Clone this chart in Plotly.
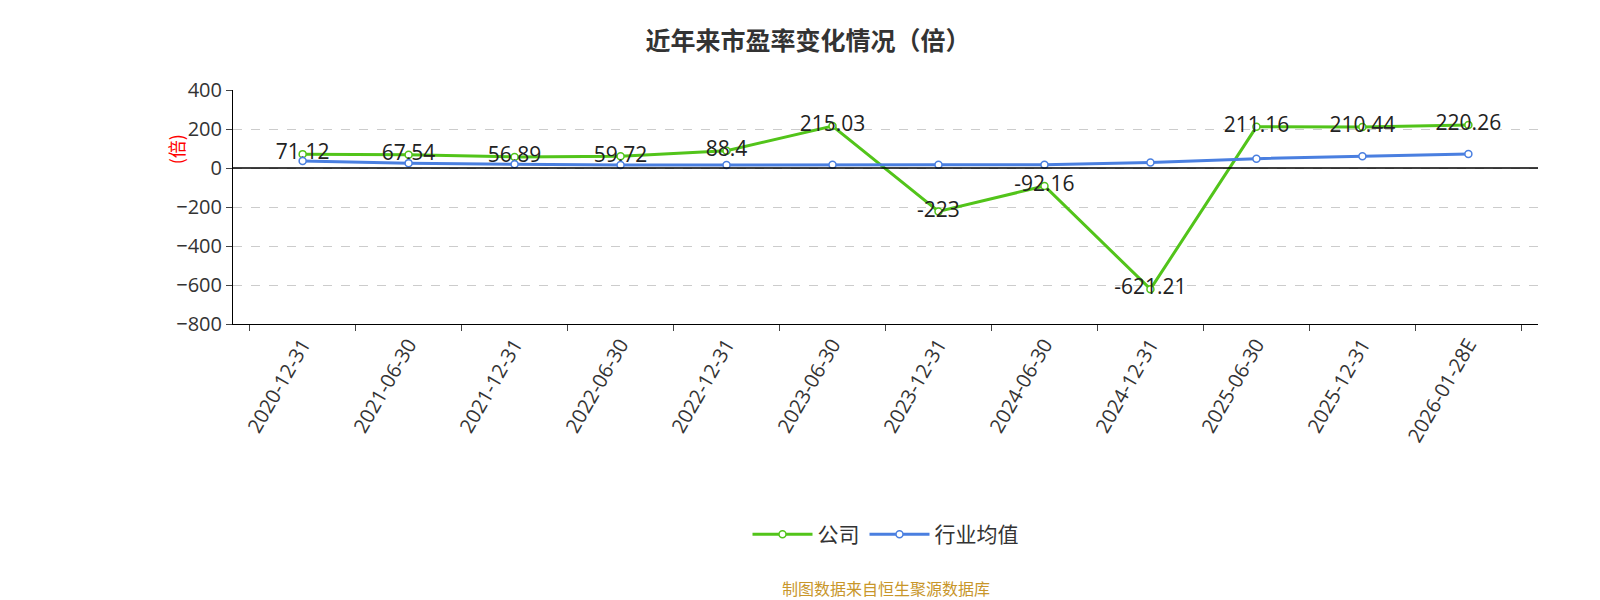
import plotly.graph_objects as go

dates = ["2020-12-31","2021-06-30","2021-12-31","2022-06-30","2022-12-31","2023-06-30",
         "2023-12-31","2024-06-30","2024-12-31","2025-06-30","2025-12-31","2026-01-28E"]
company = [71.12, 67.54, 56.89, 59.72, 88.4, 215.03, -223, -92.16, -621.21, 211.16, 210.44, 220.26]
industry = [36, 25, 19, 15, 15, 17, 17, 17, 28, 48, 60, 72]
labels = ["71.12","67.54","56.89","59.72","88.4","215.03","-223","-92.16","-621.21","211.16","210.44","220.26"]

fig = go.Figure()
fig.add_trace(go.Scatter(x=dates, y=company, name="公司", mode="lines+markers+text",
    line=dict(color="#52c41a", width=3),
    marker=dict(size=7, color="white", line=dict(color="#52c41a", width=1.5)),
    text=labels, textposition="middle center", textfont=dict(size=21, color="#222")))
fig.add_trace(go.Scatter(x=dates, y=industry, name="行业均值", mode="lines+markers",
    line=dict(color="#4a7fe0", width=3),
    marker=dict(size=7, color="white", line=dict(color="#4a7fe0", width=1.5))))

fig.update_layout(
    width=1600, height=600, plot_bgcolor="white", paper_bgcolor="white",
    font=dict(family="Open Sans, Noto Sans CJK SC", color="#333"),
    margin=dict(l=225, r=70, t=82, b=284),
    title=dict(text="<b>近年来市盈率变化情况（倍）</b>", x=0.5, xanchor="center", y=0.96,
               font=dict(size=25, color="#333", family="Noto Sans CJK SC")),
    showlegend=True,
    legend=dict(orientation="h", x=0.5, xanchor="center", y=-0.9, yanchor="middle",
                font=dict(size=21, color="#333", family="Noto Sans CJK SC"),
                itemwidth=60),
    xaxis=dict(type="category", tickangle=-60, tickfont=dict(size=20, color="#333"),
               showline=True, linecolor="#000", ticks="outside", tickson="boundaries",
               ticklen=6, showgrid=False),
    yaxis=dict(range=[-800, 400], dtick=200, tickfont=dict(size=20, color="#333"),
               showline=True, linecolor="#000", ticks="outside", ticklen=6,
               showgrid=True, gridcolor="#ccc", griddash="dash", zeroline=False),
    annotations=[
        dict(text="(倍)", x=-0.055, y=0.82, xref="paper", yref="paper", textangle=-90,
             showarrow=False, font=dict(size=18, color="red", family="Noto Sans CJK SC")),
        dict(text="制图数据来自恒生聚源数据库", x=0.5, y=-1.13, xref="paper", yref="paper",
             yanchor="middle", showarrow=False,
             font=dict(size=16, color="#c8962a", family="Noto Sans CJK SC"))],
    shapes=[dict(type="line", xref="paper", x0=0, x1=1, yref="y", y0=0, y1=0,
                 line=dict(color="#000", width=1.5))],
)
fig.write_html("out.html")
